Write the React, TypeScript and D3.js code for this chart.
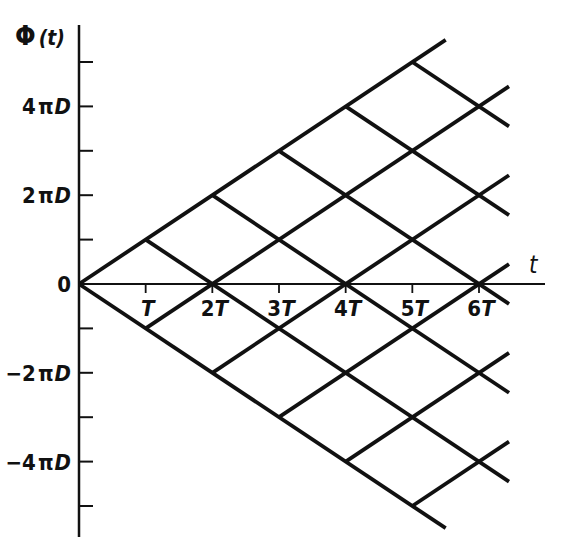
import React from "react";
import * as d3 from "d3";

// Axis ticks (t in units of T, Φ in units of πD)
const xTickValues = [1, 2, 3, 4, 5, 6];
const xTickLabels = ["T", "2T", "3T", "4T", "5T", "6T"];
const yTickValues = [-5, -4, -3, -2, -1, 1, 2, 3, 4, 5];
const yLabelValues = [4, 2, 0, -2, -4];
const yLabelNums = ["4", "2", "0", "−2", "−4"];

// Characteristic lines: rising Φ = t − 2k starting on the lower cone edge at t = k,
// falling Φ = 2k − t starting on the upper cone edge at t = k.
const lineOffsets = [0, 1, 2, 3, 4, 5];
const coneEnd = 5.5; // where the outer (k = 0) lines stop
const gridEnd = 6.45; // where the interior lines stop

const W = 561;
const H = 545;

export default function App() {
  const x = d3.scaleLinear().domain([0, 6]).range([79, 479]);
  const y = d3.scaleLinear().domain([-5, 5]).range([506, 62]);

  const line = d3
    .line<[number, number]>()
    .x((d) => x(d[0]))
    .y((d) => y(d[1]));

  const segs: [number, number][][] = [];
  lineOffsets.forEach((k) => {
    const tEnd = k === 0 ? coneEnd : gridEnd;
    segs.push([
      [k, -k],
      [tEnd, tEnd - 2 * k],
    ]);
    segs.push([
      [k, k],
      [tEnd, 2 * k - tEnd],
    ]);
  });

  const font = "'DejaVu Sans Condensed', 'Liberation Sans Narrow', sans-serif";
  const ink = "#111";

  return (
    <svg
      width={W}
      height={H}
      style={{ position: "absolute", left: 0, top: 0, background: "#fff" }}
      fontFamily={font}
    >
      {/* y axis */}
      <line x1={x(0)} x2={x(0)} y1={25} y2={537} stroke={ink} strokeWidth={2.5} />
      {yTickValues.map((v) => (
        <line key={"yt" + v} x1={x(0)} x2={x(0) + 14} y1={y(v)} y2={y(v)} stroke={ink} strokeWidth={2} />
      ))}
      {/* x axis */}
      <line x1={x(0)} x2={545} y1={y(0)} y2={y(0)} stroke={ink} strokeWidth={2} />
      {xTickValues.map((v) => (
        <line key={"xt" + v} x1={x(v)} x2={x(v)} y1={y(0)} y2={y(0) + 9} stroke={ink} strokeWidth={1.8} />
      ))}

      {/* characteristic lines */}
      {segs.map((s, i) => (
        <path key={"s" + i} d={line(s) || ""} fill="none" stroke={ink} strokeWidth={3.8} strokeLinecap="butt" />
      ))}

      {/* y labels */}
      {yLabelValues.map((v, i) => (
        <text key={"yl" + v} x={71} y={y(v) + 8} textAnchor="end" fontSize={22} fontWeight="bold" fill={ink}>
          {v === 0 ? (
            "0"
          ) : (
            <>
              {yLabelNums[i]}
              <tspan dx={2}>π</tspan>
              <tspan fontStyle="italic" dx={1}>D</tspan>
            </>
          )}
        </text>
      ))}

      {/* x labels */}
      {xTickValues.map((v, i) => (
        <text key={"xl" + v} x={x(v) + 2} y={316} textAnchor="middle" fontSize={22} fontWeight="bold" fill={ink}>
          {xTickLabels[i].length > 1 ? (
            <>
              {xTickLabels[i].slice(0, -1)}
              <tspan fontStyle="italic">T</tspan>
            </>
          ) : (
            <tspan fontStyle="italic">T</tspan>
          )}
        </text>
      ))}

      {/* axis titles */}
      <text x={15} y={45} fontSize={27} fontWeight="bold" fill={ink}>
        Φ
        <tspan fontSize={21} fontStyle="italic" dx={3}>
          (t)
        </tspan>
      </text>
      <text x={529} y={273} fontSize={24} fontStyle="italic" fill={ink}>
        t
      </text>
    </svg>
  );
}
